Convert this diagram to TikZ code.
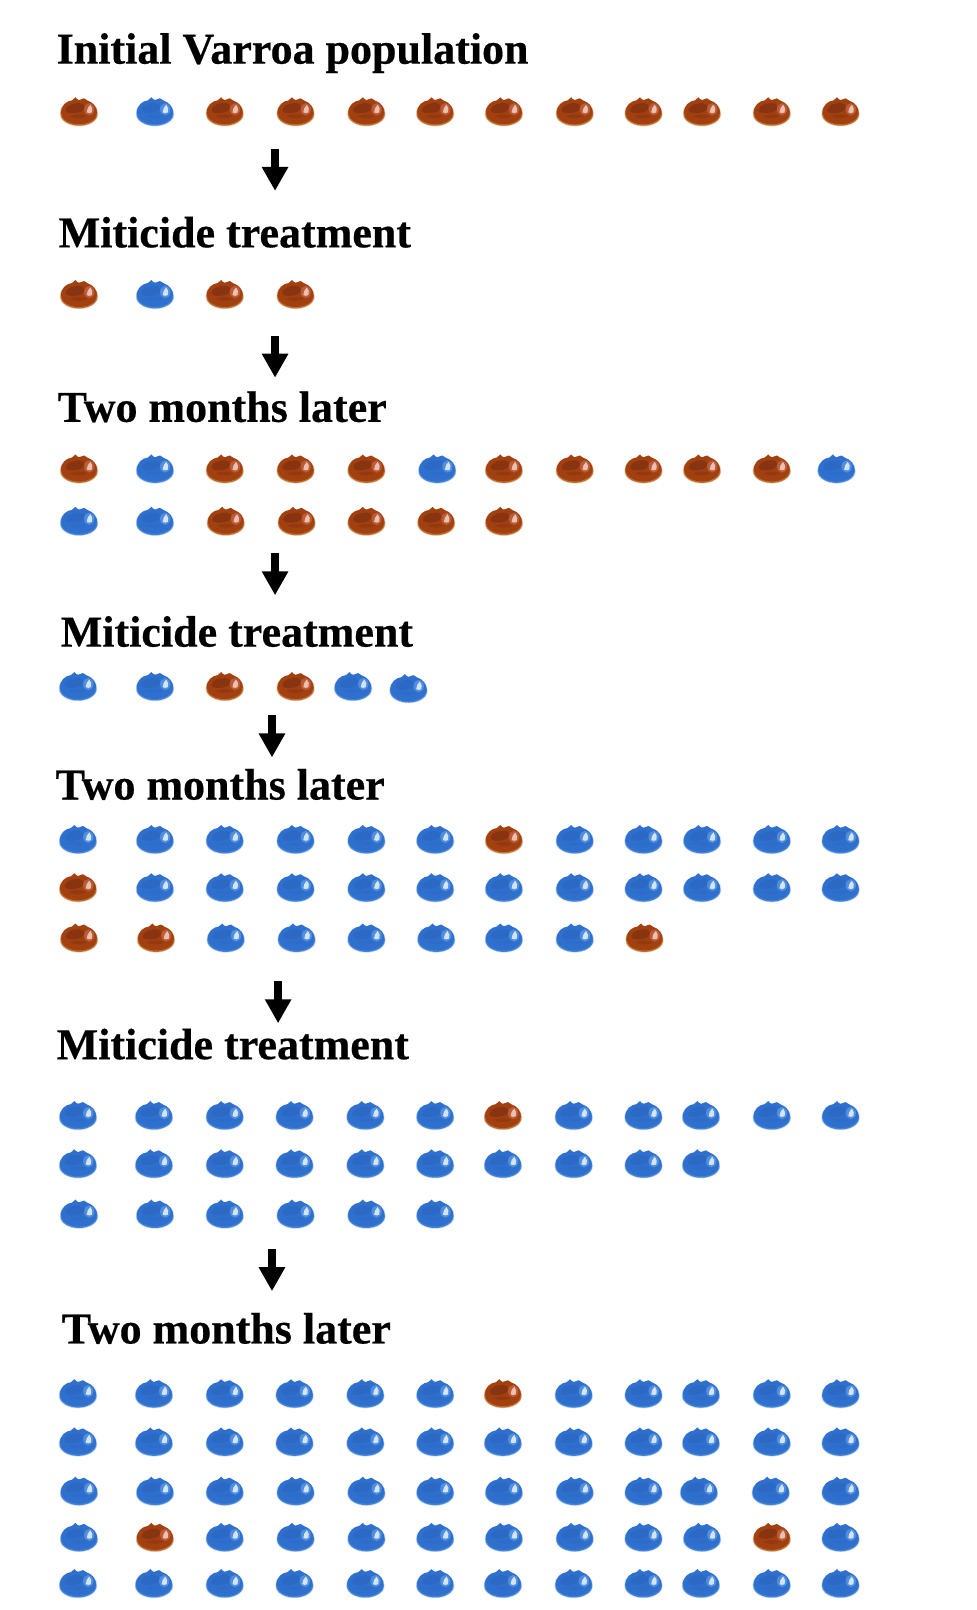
\documentclass[tikz,border=0pt]{standalone}
\usepackage{fontspec}
\setmainfont[BoldFeatures={FakeBold=0.4}]{Liberation Serif}
\usetikzlibrary{arrows.meta}
\definecolor{rimR}{HTML}{BC7030}
\definecolor{bodyR}{HTML}{A3400F}
\definecolor{darkR}{HTML}{6E2A14}
\definecolor{glowR}{HTML}{BE6448}
\definecolor{hiR}{HTML}{EDBFAE}
\definecolor{rimB}{HTML}{4283D6}
\definecolor{bodyB}{HTML}{2F70CE}
\definecolor{darkB}{HTML}{2A64BE}
\definecolor{glowB}{HTML}{5A96DF}
\definecolor{hiB}{HTML}{D4E4F8}
% Outline of a mite: rounded shield with two small bumps at the front
\newcommand{\miteoutline}{(-18,2) .. controls (-18,-6) and (-12,-10) .. (-7,-10.5)
  .. controls (-5.5,-11) and (-5,-13) .. (-3.5,-13.5) .. controls (-2.5,-12.5) and (-2,-11) .. (0,-10.8)
  .. controls (2,-10.8) and (3,-12.5) .. (5,-12.5) .. controls (6,-12) and (6.5,-10.8) .. (8.5,-10.3)
  .. controls (14,-8.5) and (18,-4) .. (18,2)
  .. controls (18,9) and (9,13.5) .. (0,13.5) .. controls (-9,13.5) and (-18,9) .. (-18,2) -- cycle}
\tikzset{
  heading/.style={anchor=base west,inner sep=0pt,font=\bfseries\fontsize{44}{48}\selectfont,text=black},
  stage/.style={line width=7.5pt,-{Triangle[width=25pt,length=24pt]},draw=black},
  pics/mite/.style={code={
    % soft edge and lighter lower rim
    \draw[rim#1,opacity=.3,line width=1.4pt] \miteoutline;
    \fill[rim#1] \miteoutline;
    % main body, lifted so the rim shows along the lower edge
    \fill[body#1,shift={(0,-1)},scale=.97] \miteoutline;
    % darker mottling on the back
    \fill[dark#1,opacity=.5] (-13,-2) .. controls (-12,-7) and (-4,-9) .. (1,-8.5)
      .. controls (6,-8) and (6,-3) .. (3,-1) .. controls (0,1.5) and (-13,3) .. (-13,-2) -- cycle;
    \fill[dark#1,opacity=.3] (-9,4) .. controls (-4,2) and (3,2) .. (8,4)
      .. controls (4,7) and (-4,7) .. (-9,4) -- cycle;
    % glossy highlight
    \fill[glow#1,opacity=.8] (10,-2.5) ellipse (5 and 6);
    \fill[hi#1] (7.5,0.5) .. controls (7.5,-2) and (9,-5.5) .. (11,-7)
      .. controls (13,-5) and (13.5,-2) .. (12.5,0.5) .. controls (11,1.5) and (9,1.5) .. (7.5,0.5) -- cycle;
  }}
}
\begin{document}
\begin{tikzpicture}[x=1.0263pt,y=-1.0263pt]
\useasboundingbox[fill=white] (0,0) rectangle (951,1568.7);

% Headings
\node[heading] (h1) at (55,62) {Initial Varroa population};
\node[heading] (h2) at (57,241) {Miticide treatment};
\node[heading] (h3) at (56,411) {Two months later};
\node[heading] (h4) at (59,630) {Miticide treatment};
\node[heading] (h5) at (54,779) {Two months later};
\node[heading] (h6) at (55,1032) {Miticide treatment};
\node[heading] (h7) at (60,1309) {Two months later};

% Stage arrows
\foreach \n/\ax/\ay/\by in {1/268/145/186,2/268/327/368,3/268/539/580,4/265/697/738,5/271/956/997,6/265/1217/1258}{
  \coordinate (a\n) at (\ax,\ay);
  \coordinate (b\n) at (\ax,\by);
  \draw[stage] (a\n) -- (b\n);
}

% Mites: x/y/colour, R = red-brown, B = blue
\foreach \x/\y/\c in {
  77/109/R,151/109/B,219/109/R,288/109/R,357/109/R,424/109/R,491/109/R,560/109/R,627/109/R,684/109/R,752/109/R,819/109/R,
  77/287/R,151/287/B,219/287/R,288/287/R,
  77/457/R,151/457/B,219/457/R,288/457/R,357/457/R,426/457/B,491/457/R,560/457/R,627/457/R,684/457/R,752/457/R,815/457/B,
  77/508/B,151/508/B,220/508/R,289/508/R,357/508/R,425/508/R,491/508/R,
  76/669/B,151/669/B,219/669/R,288/669/R,344/669/B,398/671/B,
  76/818/B,151/818/B,219/818/B,288/818/B,357/818/B,424/818/B,491/818/R,560/818/B,627/818/B,684/818/B,752/818/B,819/818/B,
  76/865/R,151/865/B,219/865/B,288/865/B,357/865/B,424/865/B,491/865/B,560/865/B,627/865/B,684/865/B,752/865/B,819/865/B,
  77/914/R,152/914/R,220/914/B,289/914/B,357/914/B,425/914/B,491/914/B,560/914/B,628/914/R,
  76/1087/B,150/1087/B,219/1087/B,287/1087/B,356/1087/B,424/1087/B,490/1087/R,559/1087/B,627/1087/B,683/1087/B,752/1087/B,819/1087/B,
  76/1134/B,150/1134/B,219/1134/B,287/1134/B,356/1134/B,424/1134/B,490/1134/B,559/1134/B,627/1134/B,683/1134/B,
  77/1183/B,151/1183/B,219/1183/B,288/1183/B,357/1183/B,424/1183/B,
  76/1358/B,150/1358/B,219/1358/B,287/1358/B,356/1358/B,424/1358/B,490/1358/R,559/1358/B,627/1358/B,683/1358/B,752/1358/B,819/1358/B,
  76/1405/B,150/1405/B,219/1405/B,287/1405/B,356/1405/B,424/1405/B,490/1405/B,559/1405/B,627/1405/B,683/1405/B,752/1405/B,819/1405/B,
  77/1453/B,151/1453/B,219/1453/B,288/1453/B,357/1453/B,424/1453/B,491/1453/B,560/1453/B,627/1453/B,681/1453/B,751/1453/B,819/1453/B,
  77/1498/B,151/1498/R,219/1498/B,288/1498/B,357/1498/B,424/1498/B,491/1498/B,560/1498/B,627/1498/B,684/1498/B,752/1498/R,819/1498/B,
  76/1543/B,150/1543/B,219/1543/B,287/1543/B,356/1543/B,424/1543/B,490/1543/B,559/1543/B,627/1543/B,683/1543/B,752/1543/B,819/1543/B}{
  \pic at (\x,\y) {mite=\c};
}
\end{tikzpicture}
\end{document}
